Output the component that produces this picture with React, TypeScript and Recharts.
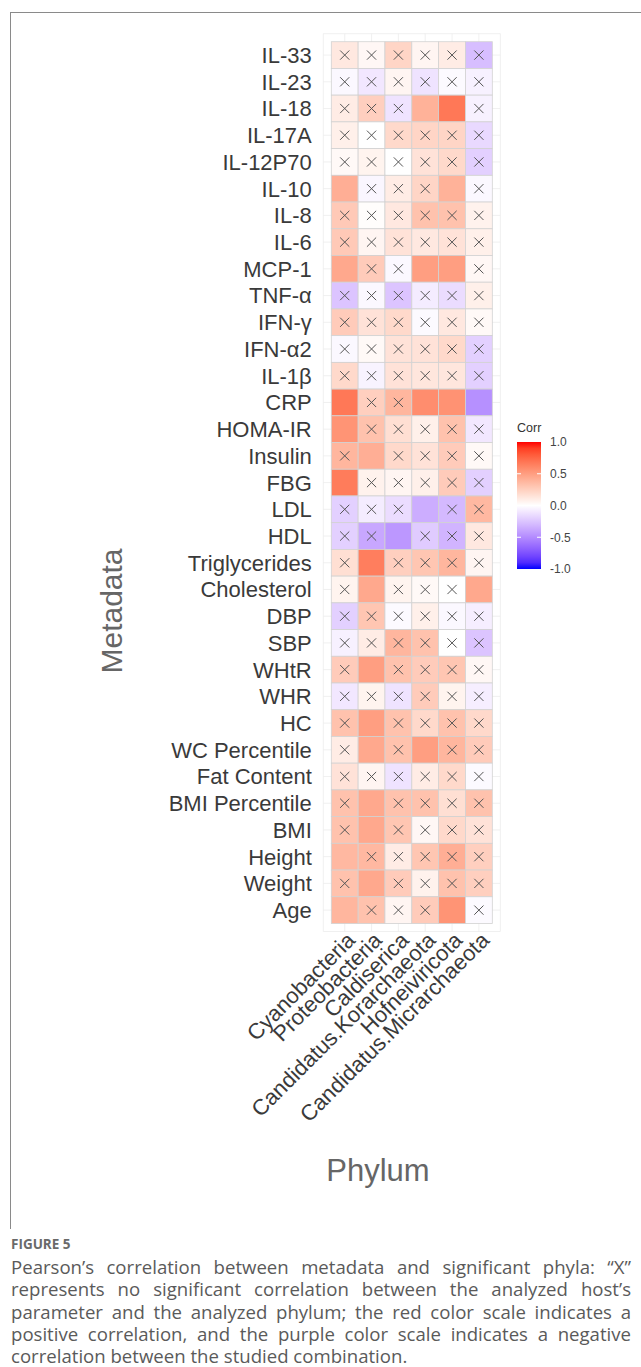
import React from 'react';
import { ScatterChart, Scatter, XAxis, YAxis, CartesianGrid } from 'recharts';

// columns (x axis)
const phyla = [
  'Cyanobacteria',
  'Proteobacteria',
  'Caldiserica',
  'Candidatus.Korarchaeota',
  'Hofneiviricota',
  'Candidatus.Micrarchaeota',
];

// rows, top to bottom
const metadata = [
  'IL-33', 'IL-23', 'IL-18', 'IL-17A', 'IL-12P70', 'IL-10', 'IL-8', 'IL-6',
  'MCP-1', 'TNF-α', 'IFN-γ', 'IFN-α2', 'IL-1β', 'CRP', 'HOMA-IR', 'Insulin',
  'FBG', 'LDL', 'HDL', 'Triglycerides', 'Cholesterol', 'DBP', 'SBP', 'WHtR',
  'WHR', 'HC', 'WC Percentile', 'Fat Content', 'BMI Percentile', 'BMI',
  'Height', 'Weight', 'Age',
];

// Pearson r, one row per metadata entry (same order)
const corr = [
  [0.12, 0.04, 0.22, 0.05, 0.1, -0.28],
  [-0.03, -0.1, 0.05, -0.12, -0.02, -0.06],
  [0.1, 0.25, -0.12, 0.4, 0.68, -0.06],
  [0.08, 0.0, 0.2, 0.22, 0.22, -0.16],
  [0.03, 0.06, 0.0, 0.15, 0.2, -0.2],
  [0.42, -0.04, 0.1, 0.22, 0.4, -0.03],
  [0.28, 0.01, 0.12, 0.32, 0.32, 0.07],
  [0.28, 0.05, 0.15, 0.12, 0.15, 0.08],
  [0.45, 0.27, -0.03, 0.5, 0.5, 0.04],
  [-0.25, -0.03, -0.25, -0.08, -0.15, 0.08],
  [0.27, 0.15, 0.2, -0.02, 0.12, 0.03],
  [-0.03, 0.03, 0.15, 0.15, 0.2, -0.2],
  [0.2, -0.05, 0.15, 0.13, 0.13, -0.2],
  [0.68, 0.25, 0.38, 0.58, 0.56, -0.48],
  [0.55, 0.32, 0.17, 0.08, 0.32, -0.1],
  [0.38, 0.42, 0.2, 0.15, 0.27, 0.03],
  [0.66, 0.07, 0.05, 0.08, 0.27, -0.2],
  [-0.2, -0.08, -0.15, -0.35, -0.3, 0.37],
  [-0.2, -0.38, -0.45, -0.22, -0.32, 0.12],
  [0.17, 0.65, 0.25, 0.3, 0.38, 0.05],
  [0.06, 0.45, 0.06, 0.03, 0.0, 0.45],
  [-0.2, 0.3, -0.02, 0.08, -0.03, -0.07],
  [-0.06, 0.1, 0.38, 0.32, 0.0, -0.25],
  [0.27, 0.5, 0.32, 0.27, 0.3, 0.04],
  [-0.1, 0.06, -0.12, 0.27, 0.06, -0.07],
  [0.32, 0.5, 0.32, 0.2, 0.32, 0.2],
  [0.1, 0.45, 0.32, 0.5, 0.38, 0.27],
  [0.15, 0.05, -0.12, 0.1, 0.2, -0.02],
  [0.32, 0.45, 0.32, 0.32, 0.17, 0.32],
  [0.32, 0.45, 0.3, 0.04, 0.2, 0.15],
  [0.37, 0.37, 0.1, 0.3, 0.42, 0.25],
  [0.32, 0.45, 0.27, 0.07, 0.32, 0.25],
  [0.38, 0.32, 0.05, 0.27, 0.55, -0.02],
];

// 1 = not significant (drawn with an X)
const insig = [
  [1, 1, 1, 1, 1, 1],
  [1, 1, 1, 1, 1, 1],
  [1, 1, 1, 0, 0, 1],
  [1, 1, 1, 1, 1, 1],
  [1, 1, 1, 1, 1, 1],
  [0, 1, 1, 1, 0, 1],
  [1, 1, 1, 1, 1, 1],
  [1, 1, 1, 1, 1, 1],
  [0, 1, 1, 0, 0, 1],
  [1, 1, 1, 1, 1, 1],
  [1, 1, 1, 1, 1, 1],
  [1, 1, 1, 1, 1, 1],
  [1, 1, 1, 1, 1, 1],
  [0, 1, 1, 0, 0, 0],
  [0, 1, 1, 1, 1, 1],
  [1, 0, 1, 1, 1, 1],
  [0, 1, 1, 1, 1, 1],
  [1, 1, 1, 0, 1, 1],
  [1, 1, 0, 1, 1, 1],
  [1, 0, 1, 1, 1, 1],
  [1, 0, 1, 1, 1, 0],
  [1, 1, 1, 1, 1, 1],
  [1, 1, 1, 1, 1, 1],
  [1, 0, 1, 1, 1, 1],
  [1, 1, 1, 1, 1, 1],
  [1, 0, 1, 1, 1, 1],
  [1, 0, 1, 0, 1, 1],
  [1, 1, 1, 1, 1, 1],
  [1, 0, 1, 1, 1, 1],
  [1, 0, 1, 1, 1, 1],
  [0, 1, 1, 1, 1, 1],
  [1, 0, 1, 1, 1, 1],
  [0, 1, 1, 1, 0, 1],
];

const legendTicks = [1.0, 0.5, 0.0, -0.5, -1.0];

const captionLines = [
  'Pearson’s correlation between metadata and significant phyla: “X”',
  'represents no significant correlation between the analyzed host’s',
  'parameter and the analyzed phylum; the red color scale indicates a',
  'positive correlation, and the purple color scale indicates a negative',
  'correlation between the studied combination.',
];

// layout
const CHART_W = 641;
const CHART_H = 1230;
const PAD = 0.8; // axis expansion around the tiles
const M_TOP = 33.7;
const M_RIGHT = 140.65;
const Y_AXIS_W = 323.25;
const PLOT_H = 897.8;
const X_AXIS_H = CHART_H - M_TOP - PLOT_H;
const CELL_W = (CHART_W - M_RIGHT - Y_AXIS_W) / (phyla.length - 1 + 2 * PAD);
const CELL_H = PLOT_H / (metadata.length - 1 + 2 * PAD);
const FONT = 'Liberation Sans, Arial, sans-serif';

// ggplot2 style gradient2 (blue - white - red), interpolated in Lab
const lin = (c: number) => {
  c /= 255;
  return c <= 0.04045 ? c / 12.92 : Math.pow((c + 0.055) / 1.055, 2.4);
};
const unlin = (c: number) => {
  const v = c <= 0.0031308 ? 12.92 * c : 1.055 * Math.pow(c, 1 / 2.4) - 0.055;
  return Math.round(Math.max(0, Math.min(1, v)) * 255);
};
const toLab = (rgb: number[]) => {
  const [r, g, b] = rgb.map(lin);
  const X = (0.4124 * r + 0.3576 * g + 0.1805 * b) / 0.95047;
  const Y = 0.2126 * r + 0.7152 * g + 0.0722 * b;
  const Z = (0.0193 * r + 0.1192 * g + 0.9505 * b) / 1.08883;
  const f = (t: number) => (t > 0.008856 ? Math.cbrt(t) : 7.787 * t + 16 / 116);
  return [116 * f(Y) - 16, 500 * (f(X) - f(Y)), 200 * (f(Y) - f(Z))];
};
const fromLab = ([L, a, bb]: number[]) => {
  const fy = (L + 16) / 116;
  const fx = fy + a / 500;
  const fz = fy - bb / 200;
  const inv = (t: number) => (t * t * t > 0.008856 ? t * t * t : (t - 16 / 116) / 7.787);
  const X = 0.95047 * inv(fx);
  const Y = inv(fy);
  const Z = 1.08883 * inv(fz);
  const r = 3.2406 * X - 1.5372 * Y - 0.4986 * Z;
  const g = -0.9689 * X + 1.8758 * Y + 0.0415 * Z;
  const b = 0.0557 * X - 0.204 * Y + 1.057 * Z;
  return `rgb(${unlin(r)},${unlin(g)},${unlin(b)})`;
};
const LAB_RED = toLab([255, 0, 0]);
const LAB_WHITE = toLab([255, 255, 255]);
const LAB_BLUE = toLab([0, 0, 255]);
const corrColor = (v: number) => {
  const end = v >= 0 ? LAB_RED : LAB_BLUE;
  const t = Math.min(1, Math.abs(v));
  return fromLab(LAB_WHITE.map((w, i) => w + (end[i] - w) * t));
};

const tiles = metadata.flatMap((name, r) =>
  phyla.map((p, c) => ({
    x: c,
    y: metadata.length - 1 - r,
    v: corr[r][c],
    insig: insig[r][c] === 1,
  }))
);

const Tile = (props: any) => {
  const { cx, cy, payload } = props;
  const s = 4.6;
  return (
    <g>
      <rect
        x={cx - CELL_W / 2}
        y={cy - CELL_H / 2}
        width={CELL_W}
        height={CELL_H}
        fill={corrColor(payload.v)}
        stroke="#d2d2d2"
        strokeWidth={0.8}
      />
      {payload.insig ? (
        <path
          d={`M${cx - s},${cy - s}L${cx + s},${cy + s}M${cx - s},${cy + s}L${cx + s},${cy - s}`}
          stroke="#555"
          strokeWidth={1}
        />
      ) : null}
    </g>
  );
};

const MetaTick = (props: any) => {
  const { x, y, payload } = props;
  return (
    <text x={x} y={y} dy="0.36em" textAnchor="end" fontSize={22} fill="#3a3a3a" fontFamily={FONT}>
      {metadata[metadata.length - 1 - payload.value]}
    </text>
  );
};

const PhylumTick = (props: any) => {
  const { x, y, payload } = props;
  const ty = y - 1.5;
  return (
    <text
      x={x}
      y={ty}
      dy="0.75em"
      textAnchor="end"
      transform={`rotate(-45 ${x} ${ty})`}
      fontSize={22}
      fill="#3a3a3a"
      fontFamily={FONT}
    >
      {phyla[payload.value]}
    </text>
  );
};

const CorrLegend = () => {
  const x0 = 517;
  const top = 442;
  const h = 127;
  const w = 24;
  const stops = Array.from({ length: 21 }, (_, i) => 1 - i * 0.1);
  return (
    <svg width={CHART_W} height={CHART_H} style={{ position: 'absolute', left: 0, top: 0, pointerEvents: 'none' }}>
      <defs>
        <linearGradient id="corrGrad" x1="0" y1="0" x2="0" y2="1">
          {stops.map((v, i) => (
            <stop key={i} offset={`${(i / (stops.length - 1)) * 100}%`} stopColor={corrColor(v)} />
          ))}
        </linearGradient>
      </defs>
      <text x={x0} y={432} fontSize={12.5} fill="#333" fontFamily={FONT}>Corr</text>
      <rect x={x0} y={top} width={w} height={h} fill="url(#corrGrad)" />
      {legendTicks.map((t) => {
        const yy = top + ((1 - t) / 2) * h;
        return (
          <g key={t}>
            {Math.abs(t) < 1 ? (
              <g>
                <line x1={x0} x2={x0 + 4} y1={yy} y2={yy} stroke="#fff" strokeWidth={1} />
                <line x1={x0 + w - 4} x2={x0 + w} y1={yy} y2={yy} stroke="#fff" strokeWidth={1} />
              </g>
            ) : null}
            <text x={550} y={yy} dy="0.36em" fontSize={12} fill="#444" fontFamily={FONT}>
              {t.toFixed(1)}
            </text>
          </g>
        );
      })}
      <text
        x={111}
        y={611}
        dy="0.36em"
        textAnchor="middle"
        transform="rotate(-90 111 611)"
        fontSize={30}
        fill="#666"
        fontFamily={FONT}
      >
        Metadata
      </text>
      <text x={378} y={1170} dy="0.36em" textAnchor="middle" fontSize={31} fill="#666" fontFamily={FONT}>
        Phylum
      </text>
    </svg>
  );
};

export default function App() {
  return (
    <div style={{ position: 'absolute', left: 0, top: 0, width: 641, height: 1367, background: '#fff', overflow: 'hidden' }}>
      <div style={{ position: 'absolute', left: 10, top: 12, width: 700, height: 1216, borderTop: '1px solid #8a8a8a', borderLeft: '1px solid #8a8a8a' }} />
      <div style={{ position: 'absolute', left: 0, top: 0 }}>
        <ScatterChart
          width={CHART_W}
          height={CHART_H}
          margin={{ top: M_TOP, right: M_RIGHT, bottom: 0, left: 0 }}
        >
          <CartesianGrid stroke="#ececec" strokeWidth={0.8} />
          <XAxis
            type="number"
            dataKey="x"
            domain={[-PAD, phyla.length - 1 + PAD]}
            ticks={phyla.map((_, i) => i)}
            interval={0}
            height={X_AXIS_H}
            axisLine={false}
            tickLine={false}
            tickSize={0}
            tickMargin={0}
            tick={<PhylumTick />}
          />
          <YAxis
            type="number"
            dataKey="y"
            domain={[-PAD, metadata.length - 1 + PAD]}
            ticks={metadata.map((_, i) => i)}
            interval={0}
            width={Y_AXIS_W}
            axisLine={false}
            tickLine={false}
            tickSize={0}
            tickMargin={11.5}
            tick={<MetaTick />}
          />
          <Scatter data={tiles} shape={<Tile />} isAnimationActive={false} />
        </ScatterChart>
      </div>
      <CorrLegend />
      <div style={{ position: 'absolute', left: 11, top: 1233, width: 620, fontFamily: 'Open Sans, sans-serif', color: '#5a5a5a' }}>
        <div style={{ fontSize: 13.5, fontWeight: 700, color: '#6a6a6a', lineHeight: '22px', height: 23 }}>FIGURE 5</div>
        {captionLines.map((line, i) => (
          <div
            key={i}
            style={{
              fontSize: 18.6,
              lineHeight: '22.3px',
              whiteSpace: 'nowrap',
              textAlign: i < captionLines.length - 1 ? 'justify' : 'left',
              textAlignLast: i < captionLines.length - 1 ? 'justify' : 'left',
            } as React.CSSProperties}
          >
            {line}
          </div>
        ))}
      </div>
    </div>
  );
}
